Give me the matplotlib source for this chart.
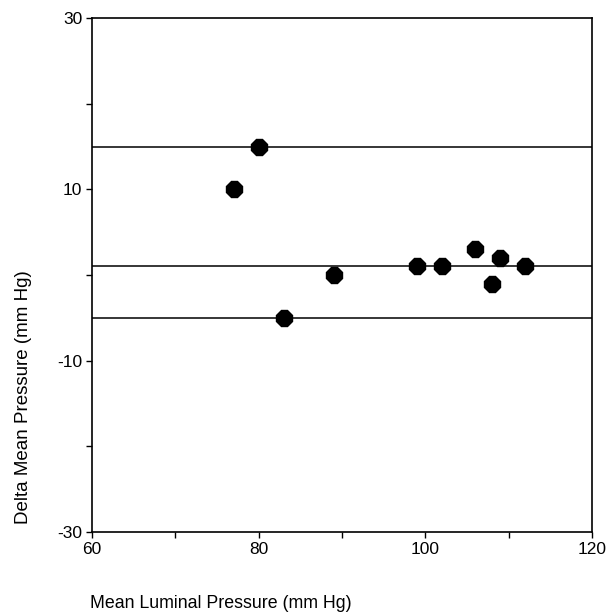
import matplotlib
matplotlib.use("Agg")
import matplotlib.pyplot as plt

plt.rcParams['font.family'] = ['Liberation Sans', 'DejaVu Sans']
plt.rcParams['axes.unicode_minus'] = False

mean_pressure = [77, 80, 83, 89, 99, 102, 106, 108, 109, 112]
delta_pressure = [10, 15, -5, 0, 1, 1, 3, -1, 2, 1]
ref_lines = [15, 1, -5]

xticks_major = [60, 80, 100, 120]
yticks_major = [30, 10, -10, -30]

fig = plt.figure(figsize=(6.14, 6.15), dpi=100)
ax = fig.add_axes([92/614, 83/615, 500/614, 514/615])

for yv in ref_lines:
    ax.axhline(yv, color='black', lw=1.1, zorder=1)

ax.plot(mean_pressure, delta_pressure, linestyle='none', marker='8',
        markersize=12.5, color='black', zorder=3)

ax.set_xlim(60, 120)
ax.set_ylim(-30, 30)
ax.set_xticks(xticks_major)
ax.set_xticks(range(60, 121, 10), minor=True)
ax.set_yticks(yticks_major)
ax.set_yticks(range(-30, 31, 10), minor=True)
ax.tick_params(which='both', direction='out', length=4, width=1, labelsize=12.5, pad=3)
for s in ax.spines.values():
    s.set_linewidth(1.2)

fig.text(90/614, 1 - 603/615, 'Mean Luminal Pressure (mm Hg)', fontsize=12.8,
         ha='left', va='center')
fig.text(24/614, 1 - 397/615, 'Delta Mean Pressure (mm Hg)', fontsize=13.5,
         ha='center', va='center', rotation=90)

fig.savefig('out.png', dpi=100)
